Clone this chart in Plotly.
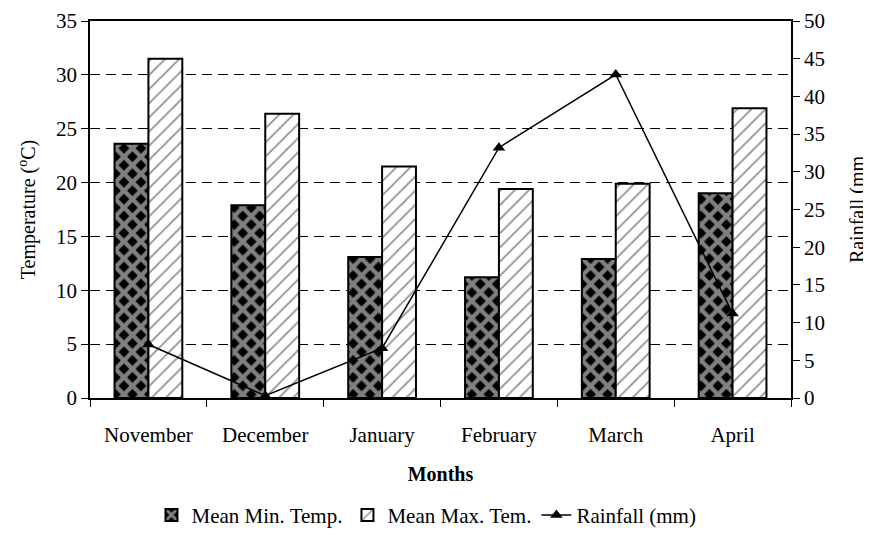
import plotly.graph_objects as go

months = ["November", "December", "January", "February", "March", "April"]
min_temp = [23.6, 17.9, 13.1, 11.2, 12.9, 19.0]
max_temp = [31.5, 26.4, 21.5, 19.4, 19.9, 26.9]
rainfall = [7.1, 0.3, 6.6, 33.2, 42.9, 11.2]

FONT = "Liberation Serif, Times New Roman, serif"

fig = go.Figure()
fig.add_trace(go.Bar(
    x=months, y=min_temp, name="Mean Min. Temp.",
    marker=dict(color="black", line=dict(color="black", width=2),
                pattern=dict(shape="x", fgcolor="white", bgcolor="black",
                             size=12, solidity=0.6)),
    yaxis="y",
))
fig.add_trace(go.Bar(
    x=months, y=max_temp, name="Mean Max. Tem.",
    marker=dict(color="white", line=dict(color="black", width=2),
                pattern=dict(shape="/", fgcolor="#222222", bgcolor="white",
                             size=10, solidity=0.18)),
    yaxis="y",
))
fig.add_trace(go.Scatter(
    x=months, y=rainfall, name="Rainfall (mm)", mode="lines+markers",
    line=dict(color="black", width=1.5),
    marker=dict(symbol="triangle-up", size=11, color="black"),
    yaxis="y2",
))

fig.update_layout(
    width=863, height=540,
    margin=dict(l=82, r=80, t=13, b=148),
    paper_bgcolor="white", plot_bgcolor="white",
    font=dict(family=FONT, size=20, color="black"),
    barmode="group", bargap=0.42, bargroupgap=0,
    showlegend=True,
    legend=dict(orientation="h", x=0.48, xanchor="center", y=-0.311, yanchor="middle",
                font=dict(family=FONT, size=21), traceorder="normal"),
    xaxis=dict(
        title=dict(text="<b>Months</b>", font=dict(family=FONT, size=20), standoff=21),
        automargin=False,
        showline=True, linecolor="black", linewidth=1.5, mirror=True,
        ticks="outside", ticklen=7, tickcolor="black", tickson="boundaries",
        ticklabelstandoff=17,
        showgrid=False, tickfont=dict(family=FONT, size=21),
    ),
    yaxis=dict(
        title=dict(text="Temperature (<sup>o</sup>C)", font=dict(family=FONT, size=20)),
        automargin=False,
        range=[0, 35], dtick=5, tick0=0,
        showline=True, linecolor="black", linewidth=1.5,
        ticks="outside", ticklen=7, tickcolor="black",
        showgrid=True, gridcolor="black", griddash="10px,6px", gridwidth=1,
        zeroline=False, tickfont=dict(family=FONT, size=21),
    ),
    yaxis2=dict(
        title=dict(text="Rainfall (mm", font=dict(family=FONT, size=20), standoff=26),
        automargin=False,
        range=[0, 50], dtick=5, tick0=0,
        overlaying="y", side="right",
        showline=True, linecolor="black", linewidth=1.5,
        ticks="outside", ticklen=7, tickcolor="black",
        showgrid=False, zeroline=False, tickfont=dict(family=FONT, size=21),
    ),
)

fig.write_html("out.html")
